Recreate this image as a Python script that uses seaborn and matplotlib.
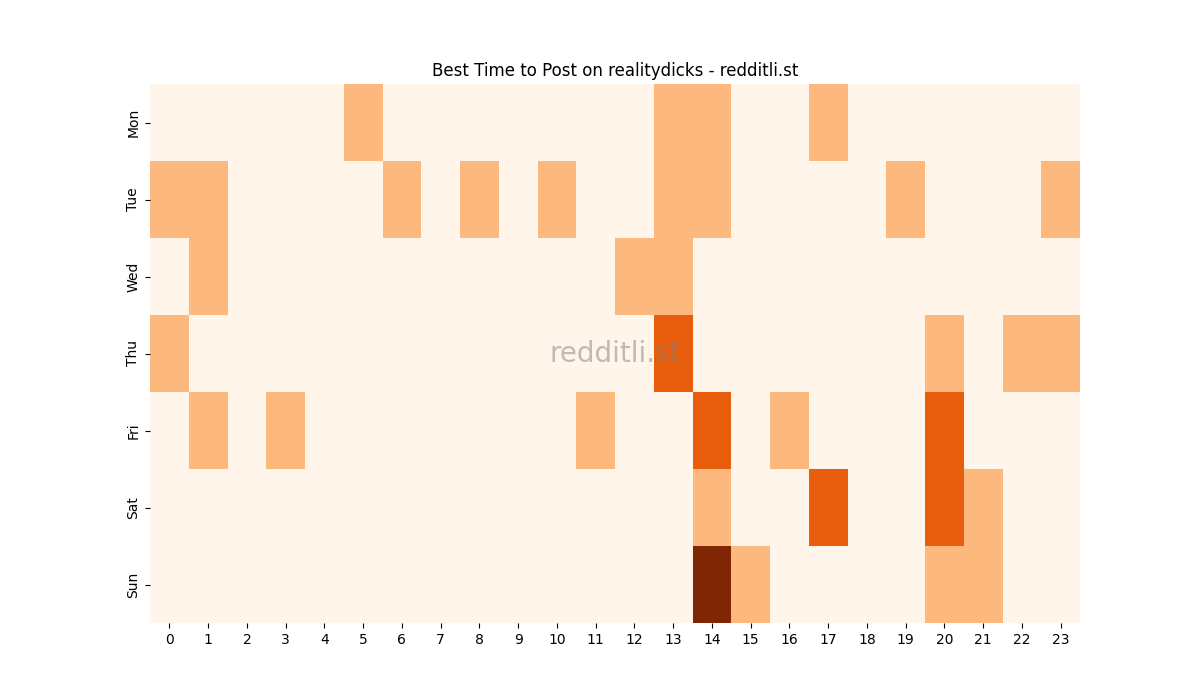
import numpy as np
import matplotlib
matplotlib.use('Agg')
import matplotlib.pyplot as plt
import seaborn as sns

days = ['Mon', 'Tue', 'Wed', 'Thu', 'Fri', 'Sat', 'Sun']
hours = list(range(24))

# hour -> activity level per day (levels 0..3)
mon = {5: 1, 13: 1, 14: 1, 17: 1}
tue = {0: 1, 1: 1, 6: 1, 8: 1, 10: 1, 13: 1, 14: 1, 19: 1, 23: 1}
wed = {1: 1, 12: 1, 13: 1}
thu = {0: 1, 13: 2, 20: 1, 22: 1, 23: 1}
fri = {1: 1, 3: 1, 11: 1, 14: 2, 16: 1, 20: 2}
sat = {14: 1, 17: 2, 20: 2, 21: 1}
sun = {14: 3, 15: 1, 20: 1, 21: 1}

rows = [mon, tue, wed, thu, fri, sat, sun]
grid = np.array([[r.get(h, 0) for h in hours] for r in rows])

fig, ax = plt.subplots(figsize=(12, 7), dpi=100)
sns.heatmap(grid, cmap='Oranges', vmin=0, vmax=3, cbar=False, ax=ax,
            xticklabels=hours, yticklabels=days)
ax.set_title('Best Time to Post on realitydicks - redditli.st')
ax.text(0.5, 0.5, 'redditli.st', transform=ax.transAxes, ha='center', va='center',
        fontsize=20, color='grey', alpha=0.5)
plt.yticks(rotation=90, va='center')
plt.xticks(rotation=0)
plt.savefig('out.png')
